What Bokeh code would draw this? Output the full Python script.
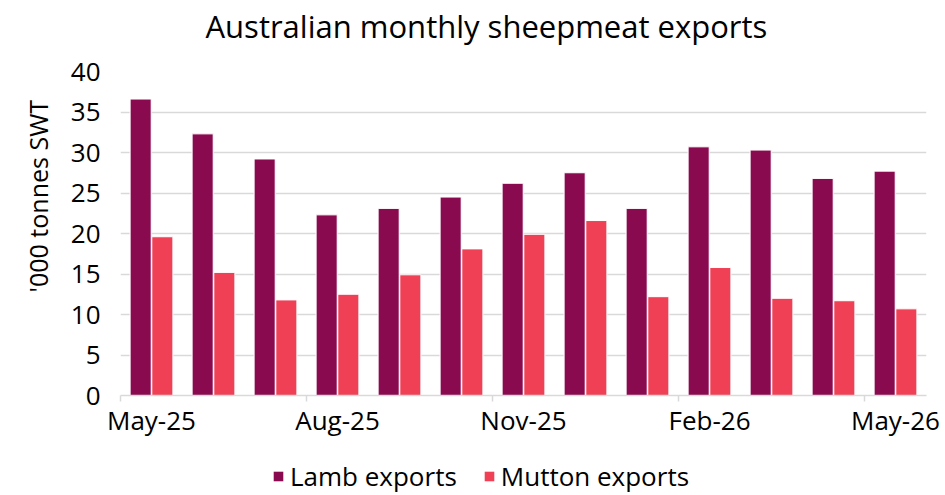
from bokeh.plotting import figure
from bokeh.layouts import column
from bokeh.models import ColumnDataSource, FixedTicker, Range1d, Legend, LegendItem, Title
from bokeh.embed import file_html
from bokeh.resources import INLINE

months = ["May-25", "Jun-25", "Jul-25", "Aug-25", "Sep-25", "Oct-25", "Nov-25",
          "Dec-25", "Jan-26", "Feb-26", "Mar-26", "Apr-26", "May-26"]
lamb = [36.6, 32.3, 29.2, 22.3, 23.1, 24.5, 26.2, 27.5, 23.1, 30.7, 30.3, 26.8, 27.7]
mutton = [19.6, 15.2, 11.8, 12.5, 14.9, 18.1, 19.9, 21.6, 12.2, 15.8, 12.0, 11.7, 10.7]
y_ticks = [0, 5, 10, 15, 20, 25, 30, 35, 40]

FONT = "Open Sans"
LAMB_C = "#8A0A4F"
MUTTON_C = "#EF4056"
GRID_C = "#D9D9D9"
W = 940

idx = list(range(len(months)))
src = ColumnDataSource(dict(
    lx=[i - 0.175 for i in idx], mx=[i + 0.175 for i in idx],
    lamb=lamb, mutton=mutton))

p = figure(width=W, height=440, output_backend="svg", toolbar_location=None,
           x_range=Range1d(-0.5, len(months) - 0.5), y_range=Range1d(0, 40),
           min_border_left=120, min_border_right=W - 926, min_border_top=71,
           min_border_bottom=0)

p.vbar(x="lx", top="lamb", width=0.34, source=src, fill_color=LAMB_C,
       line_color="white", line_width=1)
p.vbar(x="mx", top="mutton", width=0.34, source=src, fill_color=MUTTON_C,
       line_color="white", line_width=1)

# spacer between plot frame and the title (closest to the frame)
spacer = Title(text=" ", text_font_size="1px", standoff=22)
p.add_layout(spacer, "above")
t = Title(text="Australian monthly sheepmeat exports", align="left", offset=85,
          text_font=FONT, text_font_size="31px", text_font_style="normal",
          text_color="black", standoff=0)
p.add_layout(t, "above")

p.outline_line_color = None
p.xgrid.grid_line_color = None
p.ygrid.grid_line_color = GRID_C
p.ygrid.grid_line_width = 1.5
p.ygrid.ticker = FixedTicker(ticks=y_ticks)

label_pos = list(range(0, len(months), 3))
p.xaxis.ticker = FixedTicker(ticks=label_pos,
                             minor_ticks=[i - 0.5 for i in range(0, len(months) + 1, 3)])
p.xaxis.major_label_overrides = {i: months[i] for i in label_pos}
p.xaxis.major_tick_line_color = None
p.xaxis.major_tick_in = 0
p.xaxis.major_tick_out = 5
p.xaxis.minor_tick_line_color = GRID_C
p.xaxis.minor_tick_line_width = 1.5
p.xaxis.minor_tick_in = 0
p.xaxis.minor_tick_out = 6
p.xaxis.axis_line_color = GRID_C
p.xaxis.axis_line_width = 1.5
p.xaxis.major_label_text_font = FONT
p.xaxis.major_label_text_font_size = "26px"
p.xaxis.major_label_text_color = "black"
p.xaxis.major_label_standoff = 0

p.yaxis.ticker = FixedTicker(ticks=y_ticks)
p.yaxis.axis_line_color = None
p.yaxis.major_tick_line_color = None
p.yaxis.major_tick_in = 0
p.yaxis.major_tick_out = 0
p.yaxis.minor_tick_line_color = None
p.yaxis.major_label_text_font = FONT
p.yaxis.major_label_text_font_size = "26px"
p.yaxis.major_label_text_color = "black"
p.yaxis.major_label_standoff = 20

ylab = Title(text="'000 tonnes SWT", align="left", offset=103,
             text_font=FONT, text_font_size="25px", text_font_style="normal",
             text_color="black", standoff=26)
p.add_layout(ylab, "left")

# legend-only strip beneath the chart
p2 = figure(width=W, height=54, output_backend="svg", toolbar_location=None,
            x_axis_type=None, y_axis_type=None,
            min_border_left=0, min_border_right=0, min_border_top=0, min_border_bottom=0)
p2.outline_line_color = None
p2.grid.visible = False
l1 = p2.vbar(x="lx", top="lamb", width=0.34, source=src, fill_color=LAMB_C,
             line_color=None, visible=False)
l2 = p2.vbar(x="mx", top="mutton", width=0.34, source=src, fill_color=MUTTON_C,
             line_color=None, visible=False)
legend = Legend(items=[LegendItem(label="Lamb exports", renderers=[l1]),
                       LegendItem(label="Mutton exports", renderers=[l2])],
                orientation="horizontal", location=(152, 0),
                label_text_font=FONT, label_text_font_size="26px", label_text_color="black",
                glyph_width=12, glyph_height=12, spacing=26, border_line_color=None,
                background_fill_alpha=0, padding=0, margin=0, label_standoff=6)
p2.add_layout(legend, "center")

open("out.html", "w").write(file_html(column(p, p2), INLINE))
